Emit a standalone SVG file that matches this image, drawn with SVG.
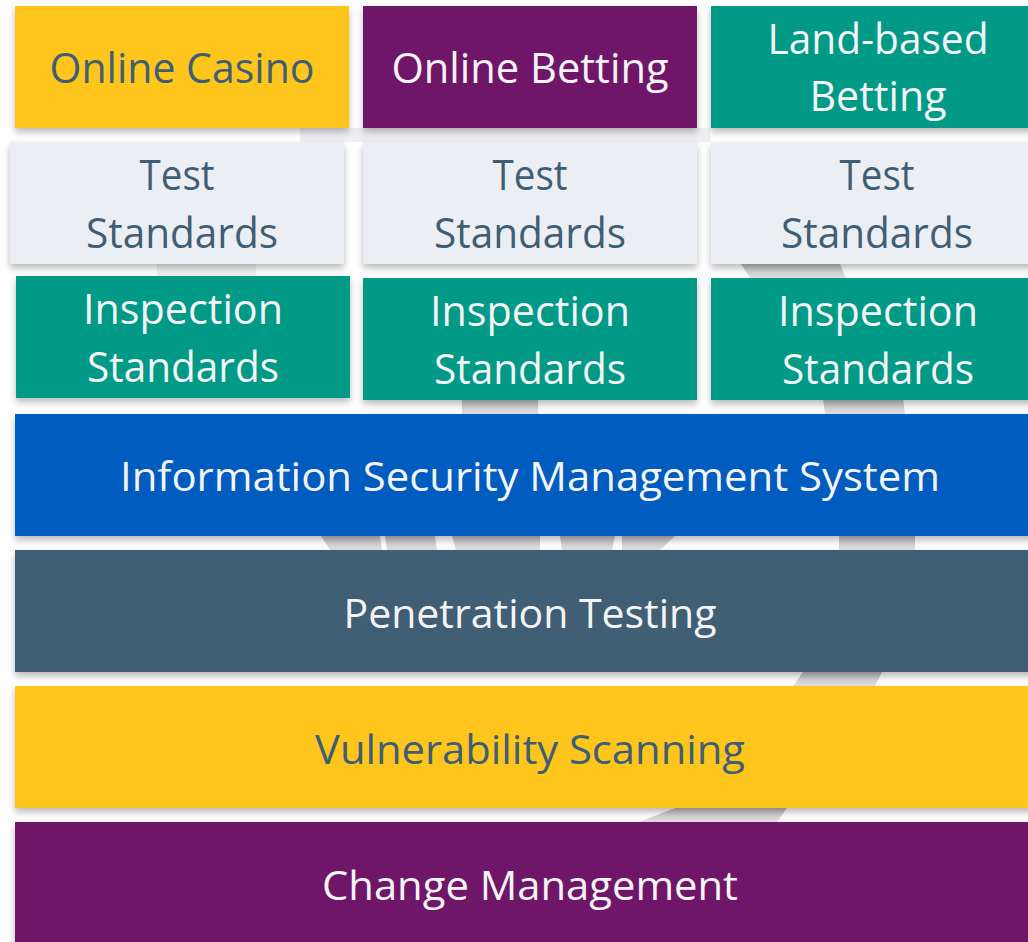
<svg xmlns="http://www.w3.org/2000/svg" width="1028" height="942" viewBox="0 0 1028 942">
<style>
text{font-family:"Open Sans","Noto Sans","Liberation Sans",sans-serif;font-size:42px;text-anchor:middle}
.dk{fill:#3f5e75}
.wt{fill:#f4f4f6}
.big{font-size:40px}
.bgs{fill:url(#gg)}
.bgf{fill:#efeff1}
</style>
<defs>
<filter id="sh" x="-5%" y="-10%" width="110%" height="135%">
<feDropShadow dx="0" dy="4" stdDeviation="3.5" flood-color="#000" flood-opacity="0.28"/>
</filter>
<linearGradient id="gg" x1="0" y1="0" x2="0" y2="1">
<stop offset="0" stop-color="#bdbdbf"/>
<stop offset="1" stop-color="#e2e2e4"/>
</linearGradient>
</defs>
<rect width="1028" height="942" fill="#ffffff"/>
<g id="bg">
<polygon class="bgf" points="300,128 710,128 710,142 300,142"/>
<polygon class="bgf" points="157,264 256,264 256,278 157,278"/>
<polygon class="bgs" points="741,264 840,264 846,278 750,278"/>
<polygon class="bgs" points="462,398 538,398 538,414 462,414"/>
<polygon class="bgs" points="823,398 903,398 905,414 825,414"/>
<polygon class="bgs" points="321,536 380,536 382,550 330,550"/>
<polygon class="bgs" points="385,536 435,536 437,550 387,550"/>
<polygon class="bgs" points="452,536 540,536 540,550 456,550"/>
<polygon class="bgs" points="560,536 615,536 612,550 562,550"/>
<polygon class="bgs" points="622,536 675,536 660,550 622,550"/>
<polygon class="bgs" points="839,536 915,536 915,550 839,550"/>
<polygon class="bgs" points="803,672 882,672 875,686 793,686"/>
<polygon class="bgs" points="675,808 787,808 777,822 639,822"/>
</g>
<g id="n-online-casino"><rect x="15" y="6" width="334" height="122" fill="#fec51e" filter="url(#sh)"/><text class="dk" x="182" y="83" textLength="265" lengthAdjust="spacingAndGlyphs">Online Casino</text></g>
<g id="n-online-betting"><rect x="363" y="6" width="334" height="122" fill="#701467" filter="url(#sh)"/><text class="wt" x="530" y="83" textLength="277" lengthAdjust="spacingAndGlyphs">Online Betting</text></g>
<g id="n-land-based"><rect x="711" y="6" width="330" height="122" fill="#009a87" filter="url(#sh)"/><text class="wt" x="878" y="54" textLength="221" lengthAdjust="spacingAndGlyphs">Land-based</text><text class="wt" x="878" y="111" textLength="137" lengthAdjust="spacingAndGlyphs">Betting</text></g>
<g id="n-test-1"><rect x="10" y="142" width="334" height="122" fill="#ebeef2" filter="url(#sh)"/><text class="dk" x="177" y="190" textLength="75" lengthAdjust="spacingAndGlyphs">Test</text><text class="dk" x="182" y="248" textLength="192" lengthAdjust="spacingAndGlyphs">Standards</text></g>
<g id="n-test-2"><rect x="363" y="142" width="334" height="122" fill="#ebeef2" filter="url(#sh)"/><text class="dk" x="530" y="190" textLength="75" lengthAdjust="spacingAndGlyphs">Test</text><text class="dk" x="530" y="248" textLength="192" lengthAdjust="spacingAndGlyphs">Standards</text></g>
<g id="n-test-3"><rect x="711" y="142" width="330" height="122" fill="#ebeef2" filter="url(#sh)"/><text class="dk" x="877" y="190" textLength="75" lengthAdjust="spacingAndGlyphs">Test</text><text class="dk" x="877" y="248" textLength="192" lengthAdjust="spacingAndGlyphs">Standards</text></g>
<g id="n-insp-1"><rect x="16" y="276" width="334" height="122" fill="#009a87" filter="url(#sh)"/><text class="wt" x="183" y="324" textLength="200" lengthAdjust="spacingAndGlyphs">Inspection</text><text class="wt" x="183" y="382" textLength="192" lengthAdjust="spacingAndGlyphs">Standards</text></g>
<g id="n-insp-2"><rect x="363" y="278" width="334" height="122" fill="#009a87" filter="url(#sh)"/><text class="wt" x="530" y="326" textLength="200" lengthAdjust="spacingAndGlyphs">Inspection</text><text class="wt" x="530" y="384" textLength="192" lengthAdjust="spacingAndGlyphs">Standards</text></g>
<g id="n-insp-3"><rect x="711" y="278" width="330" height="122" fill="#009a87" filter="url(#sh)"/><text class="wt" x="878" y="326" textLength="200" lengthAdjust="spacingAndGlyphs">Inspection</text><text class="wt" x="878" y="384" textLength="192" lengthAdjust="spacingAndGlyphs">Standards</text></g>
<g id="n-isms"><rect x="15" y="414" width="1026" height="122" fill="#005cbf" filter="url(#sh)"/><text class="wt big" x="530" y="491" textLength="820" lengthAdjust="spacingAndGlyphs">Information Security Management System</text></g>
<g id="n-pentest"><rect x="15" y="550" width="1026" height="122" fill="#415f75" filter="url(#sh)"/><text class="wt big" x="530" y="628" textLength="373" lengthAdjust="spacingAndGlyphs">Penetration Testing</text></g>
<g id="n-vuln"><rect x="15" y="686" width="1026" height="122" fill="#fec51e" filter="url(#sh)"/><text class="dk big" x="530" y="764" textLength="430" lengthAdjust="spacingAndGlyphs">Vulnerability Scanning</text></g>
<g id="n-change"><rect x="15" y="822" width="1026" height="130" fill="#701467" filter="url(#sh)"/><text class="wt big" x="530" y="900" textLength="416" lengthAdjust="spacingAndGlyphs">Change Management</text></g>
<g id="connectors"/>
</svg>
